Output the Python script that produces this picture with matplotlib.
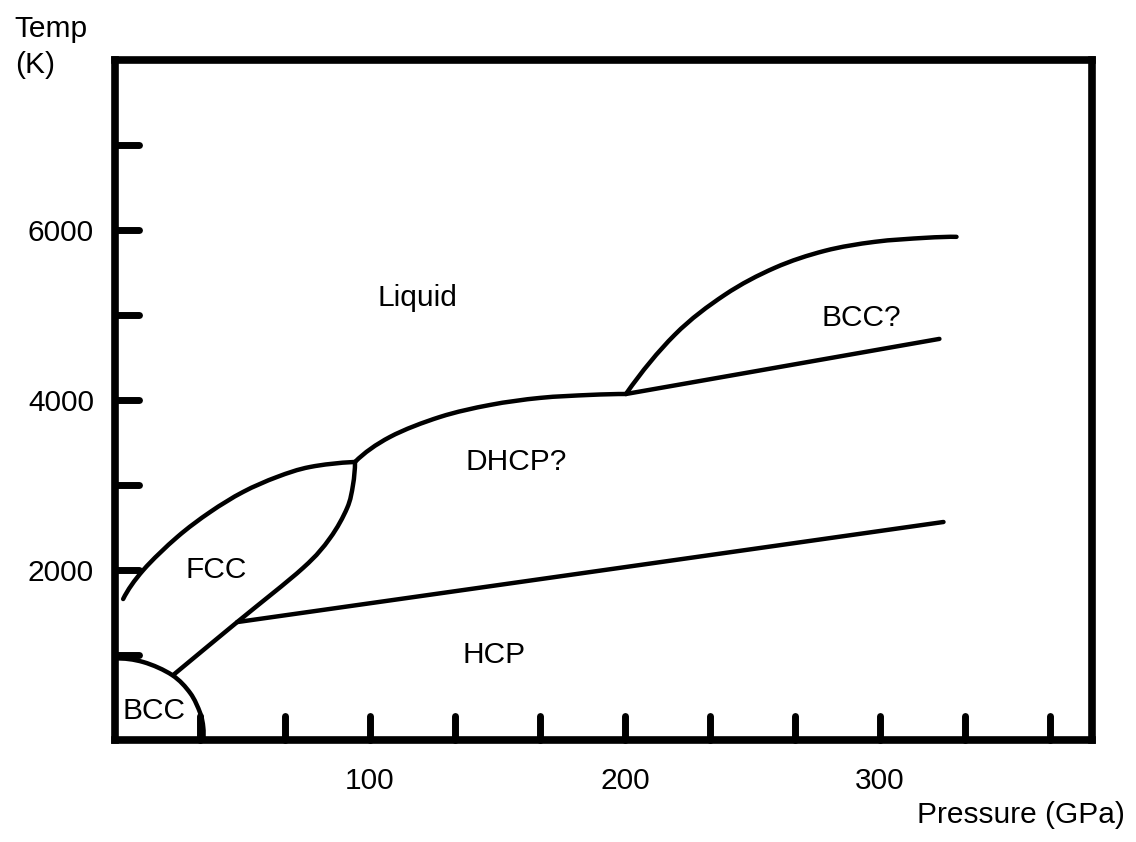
import numpy as np
import matplotlib
matplotlib.use("Agg")
import matplotlib.pyplot as plt
import matplotlib.lines as mlines
from matplotlib.markers import MarkerStyle
from matplotlib.path import Path
from matplotlib.patches import PathPatch

plt.rcParams['font.family'] = ['Liberation Sans', 'DejaVu Sans']

# phase boundaries, pressure in GPa / temperature in K
bcc_p = [0, 11.2, 22.5, 29.6, 33.5, 34.7, 34.7]
bcc_t = [960, 918, 765, 553, 318, 153, 0]

fcc_hcp_p = [22.9, 48.0, 73.8, 84.4, 91.1, 93.4, 94.2]
fcc_hcp_t = [765, 1388, 2024, 2376, 2729, 3000, 3271]

fcc_melt_p = [3.3, 11.2, 24.5, 37.4, 50.3, 63.6, 76.6, 94.2]
fcc_melt_t = [1659, 2000, 2388, 2682, 2918, 3094, 3212, 3271]

dhcp_melt_p = [94.2, 107.9, 127.5, 147.1, 166.7, 186.2, 200.4]
dhcp_melt_t = [3271, 3565, 3800, 3941, 4024, 4059, 4070]

bcc2_melt_p = [200.4, 219.5, 239.1, 258.7, 278.3, 297.9, 317.5, 330.0]
bcc2_melt_t = [4070, 4765, 5235, 5553, 5753, 5859, 5906, 5918]

bcc2_dhcp_p = [200.4, 323.3]
bcc2_dhcp_t = [4070, 4718]

hcp_dhcp_p = [48.0, 324.9]
hcp_dhcp_t = [1388, 2565]

phase_names = ['Liquid', 'BCC?', 'DHCP?', 'FCC', 'HCP', 'BCC']
phase_p = [118.5, 292.8, 157.3, 39.8, 148.7, 15.5]
phase_t = [5200, 4965, 3270, 2000, 1000, 341]

xtick_vals = np.arange(1, 12) * 100 / 3
xtick_labels = ['', '', '100', '', '', '200', '', '', '300', '', '']
ytick_vals = np.arange(1000, 8000, 1000)
ytick_labels = ['', '2000', '', '4000', '', '6000', '']


def smooth_path(p, t):
    # Catmull-Rom through the points, written out as cubic Bezier segments;
    # the ends get a quadratic extrapolated neighbour so they don't kink
    pts = np.column_stack([p, t]).astype(float)
    if len(pts) == 2:
        return Path(pts, [Path.MOVETO, Path.LINETO])
    first = 3 * pts[0] - 3 * pts[1] + pts[2]
    last = 3 * pts[-1] - 3 * pts[-2] + pts[-3]
    ext = np.vstack([first, pts, last])
    verts = [pts[0]]
    codes = [Path.MOVETO]
    for i in range(1, len(ext) - 2):
        p0, p1, p2, p3 = ext[i - 1], ext[i], ext[i + 1], ext[i + 2]
        verts += [p1 + (p2 - p0) / 6, p2 - (p3 - p1) / 6, p2]
        codes += [Path.CURVE4] * 3
    return Path(verts, codes)


fig = plt.figure(figsize=(11.36, 8.42), dpi=100)
ax = fig.add_axes([0.101, 0.121, 0.860, 0.808])

curves = [(bcc_p, bcc_t), (fcc_hcp_p, fcc_hcp_t), (fcc_melt_p, fcc_melt_t),
          (dhcp_melt_p, dhcp_melt_t), (bcc2_melt_p, bcc2_melt_t),
          (bcc2_dhcp_p, bcc2_dhcp_t), (hcp_dhcp_p, hcp_dhcp_t)]
for p, t in curves:
    ax.add_patch(PathPatch(smooth_path(p, t), facecolor='none',
                           edgecolor='black', lw=3.2, capstyle='round',
                           joinstyle='round'))

for name, p, t in zip(phase_names, phase_p, phase_t):
    ax.text(p, t, name, fontsize=21.5, ha='center', va='center')

ax.set_xlim(0, 383)
ax.set_ylim(0, 8000)

ax.set_xticks(xtick_vals)
ax.set_xticklabels(xtick_labels)
ax.set_yticks(ytick_vals)
ax.set_yticklabels(ytick_labels)
ax.tick_params(direction='in', length=17, width=5, labelsize=21.5)
ax.tick_params(axis='x', pad=19)
ax.tick_params(axis='y', pad=15)

# rounded tick ends
for tick in ax.xaxis.get_major_ticks():
    tick.tick1line.set_marker(MarkerStyle(mlines.TICKUP, capstyle='round'))
for tick in ax.yaxis.get_major_ticks():
    tick.tick1line.set_marker(MarkerStyle(mlines.TICKRIGHT, capstyle='round'))

for s in ax.spines.values():
    s.set_linewidth(5.5)

fig.text(0.013, 0.982, 'Temp\n(K)', fontsize=21.5, ha='left', va='top',
         linespacing=1.35)
fig.text(0.990, 0.022, 'Pressure (GPa)', fontsize=21.5, ha='right', va='baseline')

fig.savefig('out.png', dpi=100)
